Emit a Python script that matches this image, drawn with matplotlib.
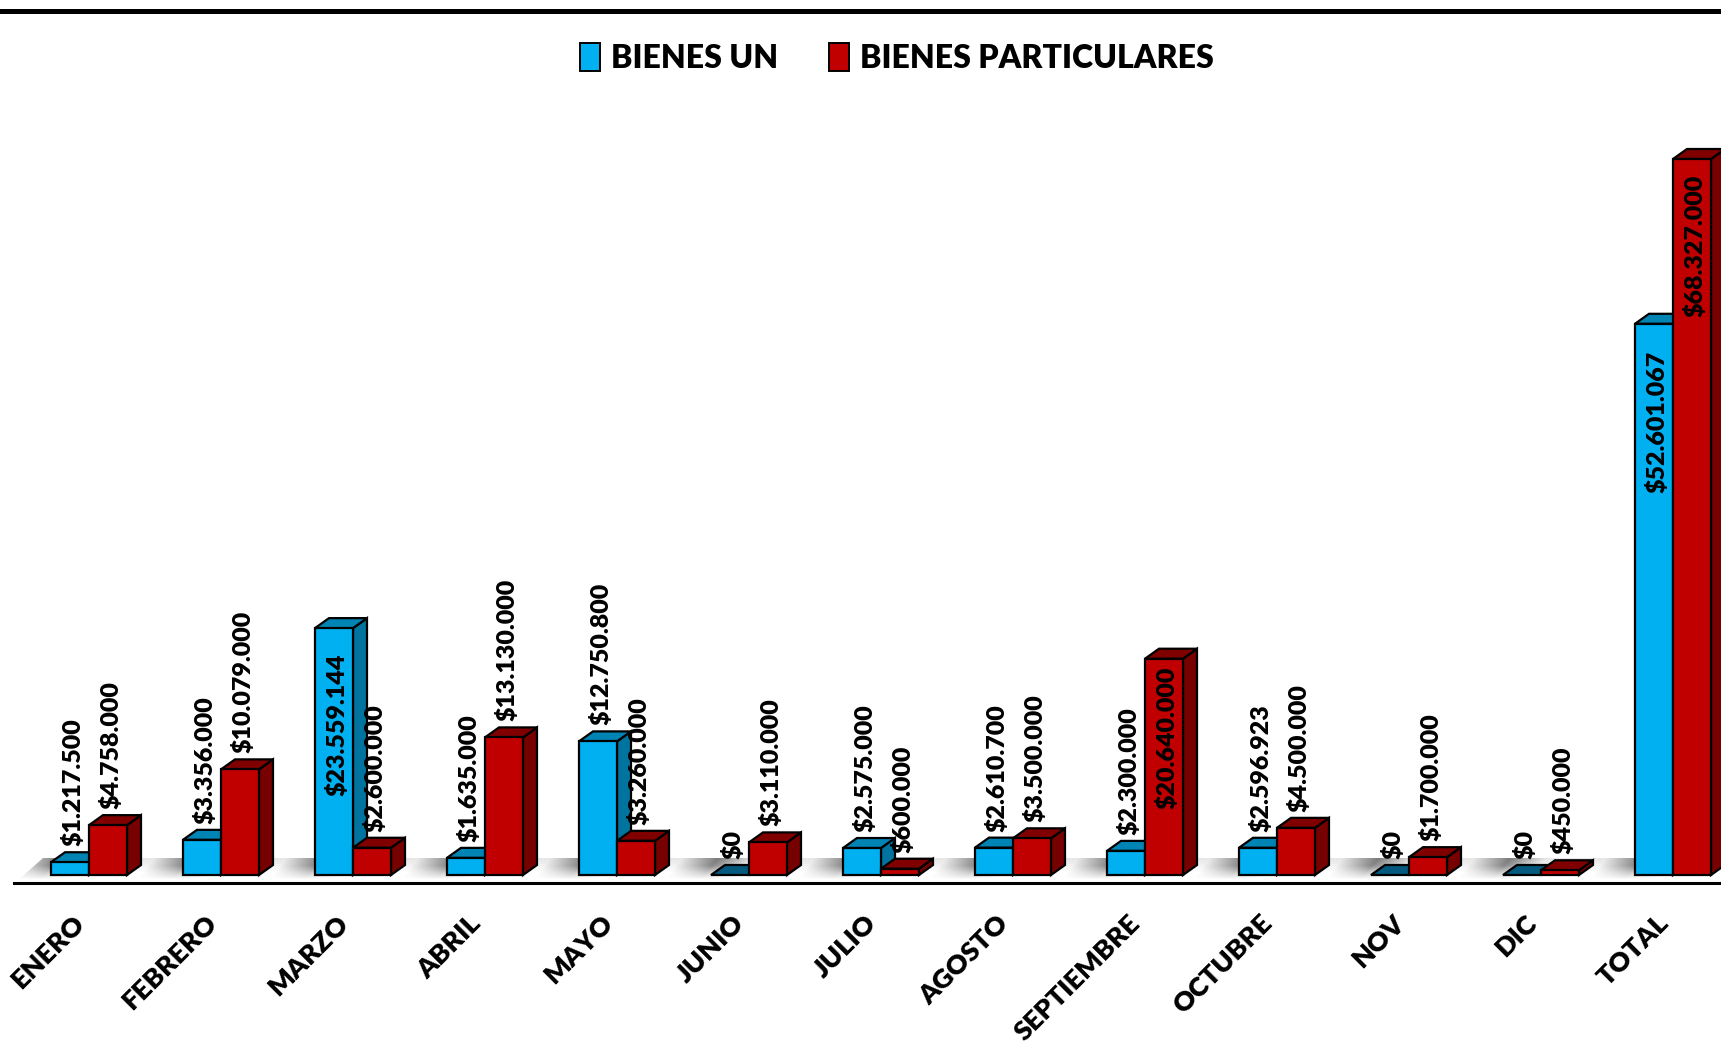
import numpy as np
import matplotlib
matplotlib.use('Agg')
import matplotlib.pyplot as plt
from matplotlib.patches import Patch, Polygon
from matplotlib.transforms import ScaledTranslation

months = ['ENERO', 'FEBRERO', 'MARZO', 'ABRIL', 'MAYO', 'JUNIO', 'JULIO', 'AGOSTO',
          'SEPTIEMBRE', 'OCTUBRE', 'NOV', 'DIC', 'TOTAL']
bienes_un = [1217500, 3356000, 23559144, 1635000, 12750800, 0, 2575000, 2610700,
             2300000, 2596923, 0, 0, 52601067]
bienes_part = [4758000, 10079000, 2600000, 13130000, 3260000, 3110000, 600000, 3500000,
               20640000, 4500000, 1700000, 450000, 68327000]

plt.rcParams['font.family'] = ['Lato', 'DejaVu Sans']
plt.rcParams['font.weight'] = 'heavy'

W, H = 1721, 1046
PX_PER_UNIT = 716 / 68327000
PX_PER_GROUP = 132
BASE_Y, AXIS_Y, TOP_Y = 875, 883, 10.5

fig = plt.figure(figsize=(W / 100, H / 100), dpi=100, facecolor='white')
ax = fig.add_axes([0, 1 - AXIS_Y / H, 1, (AXIS_Y - TOP_Y) / H])
ax.set_xlim(-89 / PX_PER_GROUP, (W - 89) / PX_PER_GROUP)
ax.set_ylim(-(AXIS_Y - BASE_Y) / PX_PER_UNIT, (BASE_Y - TOP_Y) / PX_PER_UNIT)

bar_w = 38 / PX_PER_GROUP
dx = 14 / PX_PER_GROUP
dy = 10 / PX_PER_UNIT
edge = dict(edgecolor='black', linewidth=1.6, joinstyle='miter')


def px_x(px):
    return (px - 89) / PX_PER_GROUP


def px_y(py):
    return (BASE_Y - py) / PX_PER_UNIT


# floor shadow, one soft band per month
xs = np.arange(0, W)
ys = np.arange(855, AXIS_Y)
gx, gy = np.meshgrid(xs, ys)
dark = np.zeros(gx.shape)
for i in range(len(months)):
    t = gx - (49 + PX_PER_GROUP * i) + (gy - 868) * 0.9
    band = np.where(t < 0, np.clip(1 + t / 36, 0, 1), np.clip(1 - t / 36, 0, 1))
    dark = np.maximum(dark, band)
env = np.clip((879 - gy) / 14, 0, 1)
shade = 1 - (0.42 * dark * env + 0.10 * np.clip((872 - gy) / 14, 0, 1))
img = ax.imshow(shade, cmap='gray', vmin=0, vmax=1, aspect='auto', zorder=1,
                extent=(px_x(0), px_x(W), px_y(AXIS_Y), px_y(855)), interpolation='bilinear')
floor = Polygon([(px_x(16), px_y(AXIS_Y - 1)), (px_x(43), px_y(858)), (px_x(W), px_y(858)),
                 (px_x(W), px_y(AXIS_Y - 1))], transform=ax.transData, facecolor='none', edgecolor='none')
ax.add_patch(floor)
img.set_clip_path(floor)
ax.set_xlim(-89 / PX_PER_GROUP, (W - 89) / PX_PER_GROUP)
ax.set_ylim(-(AXIS_Y - BASE_Y) / PX_PER_UNIT, (BASE_Y - TOP_Y) / PX_PER_UNIT)


def draw_bar(left, value, front, top, side, z):
    right = left + bar_w
    if value > 0:
        ax.add_patch(Polygon([(right, 0), (right + dx, dy), (right + dx, value + dy), (right, value)],
                             facecolor=side, zorder=z, **edge))
    ax.add_patch(Polygon([(left, value), (left + dx, value + dy), (right + dx, value + dy), (right, value)],
                         facecolor=top, zorder=z, **edge))
    if value > 0:
        ax.bar(left, value, bar_w, align='edge', color=front, zorder=z, **edge)


for i in range(len(months)):
    z = 3 + i * 0.1
    un_top = '#0084B4' if bienes_un[i] > 0 else '#045A7E'
    draw_bar(i - bar_w, bienes_un[i], '#00B0F0', un_top, '#00749F', z)
    draw_bar(i, bienes_part[i], '#C00000', '#800000', '#770000', z + 0.05)

# labels that sit inside their bar: pixels from the bar top to the label top
inside_un = {2: 25, 12: 27}
inside_part = {8: 8, 12: 16}


def fmt(v):
    return '$' + f'{v:,}'.replace(',', '.')


for series, offs, shift in ((bienes_un, inside_un, -bar_w / 2), (bienes_part, inside_part, bar_w / 2)):
    for i, v in enumerate(series):
        if i in offs:
            ax.annotate(fmt(v), (i + shift, v), xytext=(3, -offs[i]), textcoords='offset pixels',
                        rotation=90, ha='center', va='top', fontsize=18, color='black', zorder=20)
        else:
            ax.annotate(fmt(v), (i + shift, v), xytext=(3, 16), textcoords='offset pixels',
                        rotation=90, ha='center', va='bottom', fontsize=18, color='black', zorder=20)

ax.set_xticks(range(len(months)))
ax.set_xticklabels(months, rotation=45, ha='right', va='top', rotation_mode='anchor',
                   fontsize=19.5, fontweight='heavy')
ax.tick_params(axis='x', length=0, pad=20)
ax.set_yticks([])
shift_left = ScaledTranslation(-17 / 100, 0, fig.dpi_scale_trans)
for lab in ax.get_xticklabels():
    lab.set_transform(lab.get_transform() + shift_left)

for s in ('left', 'right'):
    ax.spines[s].set_visible(False)
ax.spines['bottom'].set_linewidth(2.2)
ax.spines['bottom'].set_bounds(px_x(14), px_x(W))
ax.spines['top'].set_linewidth(3.6)
ax.patch.set_visible(False)

handles = [Patch(facecolor='#00B0F0', edgecolor='black', linewidth=1.4, label='BIENES UN'),
           Patch(facecolor='#C00000', edgecolor='black', linewidth=1.4, label='BIENES PARTICULARES')]
ax.legend(handles=handles, ncol=2, loc='center', bbox_to_anchor=(897 / W, 1 - (58 - TOP_Y) / (AXIS_Y - TOP_Y)),
          frameon=False, fontsize=23, handlelength=0.62, handleheight=0.95, handletextpad=0.34,
          columnspacing=1.6, borderpad=0)

fig.savefig('out.png', dpi=100)
